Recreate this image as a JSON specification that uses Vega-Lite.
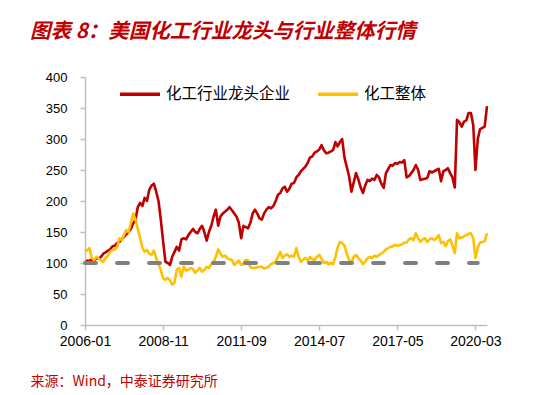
{
"$schema":"https://vega.github.io/schema/vega-lite/v6.json",
"width":402,"height":248,
"autosize":"none",
"padding":{"left":85,"top":77,"right":46,"bottom":70},
"background":"white",
"config":{"view":{"stroke":null}},
"title":{"text":"图表 8：美国化工行业龙头与行业整体行情","anchor":"start","frame":"group","dx":-55,"offset":29,"font":"Noto Sans CJK SC","fontSize":20.5,"fontWeight":"bold","fontStyle":"italic","color":"#c00000"},
"encoding":{
"x":{"field":"d","type":"temporal","scale":{"type":"utc","domain":[{"year":2006,"month":1,"utc":true},{"year":2020,"month":8,"utc":true}]},
"axis":{"values":[{"year":2006,"month":1,"utc":true},{"year":2008,"month":11,"utc":true},{"year":2011,"month":9,"utc":true},{"year":2014,"month":7,"utc":true},{"year":2017,"month":5,"utc":true},{"year":2020,"month":3,"utc":true}],"format":"%Y-%m","grid":false,"labelFont":"Liberation Sans","labelFontSize":14,"labelColor":"#000000","labelPadding":4,"labelFlush":false,"labelOverlap":false,"domainColor":"#bfbfbf","domainWidth":1.5,"tickColor":"#bfbfbf","tickSize":5,"tickWidth":1.5,
"title":"来源：Wind，中泰证券研究所","titleAnchor":"start","titleAlign":"left","titleBaseline":"middle","titleX":-55,"titleY":56,"titleColor":"#c00000","titleFont":"Noto Sans CJK SC","titleFontSize":14,"titleFontWeight":"normal"}},
"y":{"field":"value","type":"quantitative","scale":{"domain":[0,400]},
"axis":{"values":[0,50,100,150,200,250,300,350,400],"grid":false,"title":null,"labelOverlap":false,"labelFont":"Liberation Sans","labelFontSize":13,"labelColor":"#000000","labelPadding":13,"domainColor":"#bfbfbf","domainWidth":1.5,"tickColor":"#bfbfbf","tickSize":5,"tickWidth":1.5}}
},
"layer":[
{"data":{"values":[
{"d":"2006-01","化工行业龙头企业":100,"化工整体":118},{"d":"2006-02","化工行业龙头企业":104,"化工整体":121},{"d":"2006-03","化工行业龙头企业":103,"化工整体":124},{"d":"2006-04","化工行业龙头企业":106,"化工整体":108},{"d":"2006-05","化工行业龙头企业":104,"化工整体":105},{"d":"2006-06","化工行业龙头企业":108,"化工整体":110},{"d":"2006-07","化工行业龙头企业":107,"化工整体":107},{"d":"2006-08","化工行业龙头企业":110,"化工整体":104},{"d":"2006-09","化工行业龙头企业":115,"化工整体":102},{"d":"2006-10","化工行业龙头企业":117,"化工整体":108},{"d":"2006-11","化工行业龙头企业":120,"化工整体":112},{"d":"2006-12","化工行业龙头企业":122,"化工整体":118},
{"d":"2007-01","化工行业龙头企业":127,"化工整体":121},{"d":"2007-02","化工行业龙头企业":128,"化工整体":122},{"d":"2007-03","化工行业龙头企业":132,"化工整体":125},{"d":"2007-04","化工行业龙头企业":134,"化工整体":140},{"d":"2007-05","化工行业龙头企业":138,"化工整体":137},{"d":"2007-06","化工行业龙头企业":142,"化工整体":145},{"d":"2007-07","化工行业龙头企业":146,"化工整体":153},{"d":"2007-08","化工行业龙头企业":150,"化工整体":150},{"d":"2007-09","化工行业龙头企业":155,"化工整体":165},{"d":"2007-10","化工行业龙头企业":164,"化工整体":180},{"d":"2007-11","化工行业龙头企业":170,"化工整体":170},{"d":"2007-12","化工行业龙头企业":190,"化工整体":155},
{"d":"2008-01","化工行业龙头企业":197,"化工整体":140},{"d":"2008-02","化工行业龙头企业":192,"化工整体":125},{"d":"2008-03","化工行业龙头企业":205,"化工整体":118},{"d":"2008-04","化工行业龙头企业":200,"化工整体":121},{"d":"2008-05","化工行业龙头企业":218,"化工整体":115},{"d":"2008-06","化工行业龙头企业":225,"化工整体":113},{"d":"2008-07","化工行业龙头企业":228,"化工整体":120},{"d":"2008-08","化工行业龙头企业":215,"化工整体":108},{"d":"2008-09","化工行业龙头企业":200,"化工整体":98},{"d":"2008-10","化工行业龙头企业":170,"化工整体":89},{"d":"2008-11","化工行业龙头企业":135,"化工整体":75},{"d":"2008-12","化工行业龙头企业":102,"化工整体":73},
{"d":"2009-01","化工行业龙头企业":100,"化工整体":76},{"d":"2009-02","化工行业龙头企业":97,"化工整体":72},{"d":"2009-03","化工行业龙头企业":110,"化工整体":65},{"d":"2009-04","化工行业龙头企业":118,"化工整体":68},{"d":"2009-05","化工行业龙头企业":126,"化工整体":89},{"d":"2009-06","化工行业龙头企业":120,"化工整体":92},{"d":"2009-07","化工行业龙头企业":138,"化工整体":78},{"d":"2009-08","化工行业龙头企业":140,"化工整体":94},{"d":"2009-09","化工行业龙头企业":138,"化工整体":88},{"d":"2009-10","化工行业龙头企业":145,"化工整体":89},{"d":"2009-11","化工行业龙头企业":150,"化工整体":92},{"d":"2009-12","化工行业龙头企业":155,"化工整体":90},
{"d":"2010-01","化工行业龙头企业":150,"化工整体":84},{"d":"2010-02","化工行业龙头企业":148,"化工整体":88},{"d":"2010-03","化工行业龙头企业":155,"化工整体":92},{"d":"2010-04","化工行业龙头企业":160,"化工整体":86},{"d":"2010-05","化工行业龙头企业":150,"化工整体":89},{"d":"2010-06","化工行业龙头企业":136,"化工整体":94},{"d":"2010-07","化工行业龙头企业":150,"化工整体":92},{"d":"2010-08","化工行业龙头企业":160,"化工整体":98},{"d":"2010-09","化工行业龙头企业":175,"化工整体":102},{"d":"2010-10","化工行业龙头企业":186,"化工整体":110},{"d":"2010-11","化工行业龙头企业":160,"化工整体":122},{"d":"2010-12","化工行业龙头企业":175,"化工整体":115},
{"d":"2011-01","化工行业龙头企业":180,"化工整体":110},{"d":"2011-02","化工行业龙头企业":183,"化工整体":112},{"d":"2011-03","化工行业龙头企业":186,"化工整体":108},{"d":"2011-04","化工行业龙头企业":190,"化工整体":106},{"d":"2011-05","化工行业龙头企业":185,"化工整体":105},{"d":"2011-06","化工行业龙头企业":180,"化工整体":97},{"d":"2011-07","化工行业龙头企业":175,"化工整体":100},{"d":"2011-08","化工行业龙头企业":165,"化工整体":104},{"d":"2011-09","化工行业龙头企业":140,"化工整体":97},{"d":"2011-10","化工行业龙头企业":160,"化工整体":98},{"d":"2011-11","化工行业龙头企业":158,"化工整体":105},{"d":"2011-12","化工行业龙头企业":156,"化工整体":104},
{"d":"2012-01","化工行业龙头企业":165,"化工整体":93},{"d":"2012-02","化工行业龙头企业":180,"化工整体":92},{"d":"2012-03","化工行业龙头企业":186,"化工整体":92},{"d":"2012-04","化工行业龙头企业":180,"化工整体":93},{"d":"2012-05","化工行业龙头企业":172,"化工整体":94},{"d":"2012-06","化工行业龙头企业":170,"化工整体":94},{"d":"2012-07","化工行业龙头企业":180,"化工整体":91},{"d":"2012-08","化工行业龙头企业":186,"化工整体":92},{"d":"2012-09","化工行业龙头企业":190,"化工整体":94},{"d":"2012-10","化工行业龙头企业":188,"化工整体":98},{"d":"2012-11","化工行业龙头企业":192,"化工整体":100},{"d":"2012-12","化工行业龙头企业":200,"化工整体":102},
{"d":"2013-01","化工行业龙头企业":210,"化工整体":110},{"d":"2013-02","化工行业龙头企业":213,"化工整体":118},{"d":"2013-03","化工行业龙头企业":220,"化工整体":108},{"d":"2013-04","化工行业龙头企业":223,"化工整体":112},{"d":"2013-05","化工行业龙头企业":215,"化工整体":114},{"d":"2013-06","化工行业龙头企业":220,"化工整体":110},{"d":"2013-07","化工行业龙头企业":228,"化工整体":112},{"d":"2013-08","化工行业龙头企业":229,"化工整体":110},{"d":"2013-09","化工行业龙头企业":238,"化工整体":124},{"d":"2013-10","化工行业龙头企业":242,"化工整体":110},{"d":"2013-11","化工行业龙头企业":248,"化工整体":102},{"d":"2013-12","化工行业龙头企业":252,"化工整体":106},
{"d":"2014-01","化工行业龙头企业":256,"化工整体":108},{"d":"2014-02","化工行业龙头企业":262,"化工整体":104},{"d":"2014-03","化工行业龙头企业":270,"化工整体":110},{"d":"2014-04","化工行业龙头企业":272,"化工整体":106},{"d":"2014-05","化工行业龙头企业":278,"化工整体":105},{"d":"2014-06","化工行业龙头企业":280,"化工整体":110},{"d":"2014-07","化工行业龙头企业":283,"化工整体":113},{"d":"2014-08","化工行业龙头企业":290,"化工整体":107},{"d":"2014-09","化工行业龙头企业":282,"化工整体":100},{"d":"2014-10","化工行业龙头企业":277,"化工整体":102},{"d":"2014-11","化工行业龙头企业":278,"化工整体":98},{"d":"2014-12","化工行业龙头企业":280,"化工整体":100},
{"d":"2015-01","化工行业龙头企业":282,"化工整体":98},{"d":"2015-02","化工行业龙头企业":295,"化工整体":110},{"d":"2015-03","化工行业龙头企业":288,"化工整体":125},{"d":"2015-04","化工行业龙头企业":295,"化工整体":134},{"d":"2015-05","化工行业龙头企业":300,"化工整体":132},{"d":"2015-06","化工行业龙头企业":270,"化工整体":128},{"d":"2015-07","化工行业龙头企业":255,"化工整体":115},{"d":"2015-08","化工行业龙头企业":240,"化工整体":105},{"d":"2015-09","化工行业龙头企业":215,"化工整体":100},{"d":"2015-10","化工行业龙头企业":230,"化工整体":110},{"d":"2015-11","化工行业龙头企业":245,"化工整体":113},{"d":"2015-12","化工行业龙头企业":235,"化工整体":108},
{"d":"2016-01","化工行业龙头企业":222,"化工整体":104},{"d":"2016-02","化工行业龙头企业":213,"化工整体":98},{"d":"2016-03","化工行业龙头企业":225,"化工整体":102},{"d":"2016-04","化工行业龙头企业":234,"化工整体":108},{"d":"2016-05","化工行业龙头企业":232,"化工整体":110},{"d":"2016-06","化工行业龙头企业":236,"化工整体":108},{"d":"2016-07","化工行业龙头企业":234,"化工整体":112},{"d":"2016-08","化工行业龙头企业":242,"化工整体":110},{"d":"2016-09","化工行业龙头企业":238,"化工整体":113},{"d":"2016-10","化工行业龙头企业":228,"化工整体":115},{"d":"2016-11","化工行业龙头企业":221,"化工整体":118},{"d":"2016-12","化工行业龙头企业":245,"化工整体":122},
{"d":"2017-01","化工行业龙头企业":252,"化工整体":124},{"d":"2017-02","化工行业龙头企业":258,"化工整体":126},{"d":"2017-03","化工行业龙头企业":257,"化工整体":127},{"d":"2017-04","化工行业龙头企业":261,"化工整体":129},{"d":"2017-05","化工行业龙头企业":260,"化工整体":128},{"d":"2017-06","化工行业龙头企业":263,"化工整体":129},{"d":"2017-07","化工行业龙头企业":262,"化工整体":130},{"d":"2017-08","化工行业龙头企业":266,"化工整体":133},{"d":"2017-09","化工行业龙头企业":238,"化工整体":133},{"d":"2017-10","化工行业龙头企业":240,"化工整体":138},{"d":"2017-11","化工行业龙头企业":245,"化工整体":140},{"d":"2017-12","化工行业龙头企业":250,"化工整体":137},
{"d":"2018-01","化工行业龙头企业":258,"化工整体":148},{"d":"2018-02","化工行业龙头企业":250,"化工整体":140},{"d":"2018-03","化工行业龙头企业":234,"化工整体":134},{"d":"2018-04","化工行业龙头企业":235,"化工整体":138},{"d":"2018-05","化工行业龙头企业":236,"化工整体":140},{"d":"2018-06","化工行业龙头企业":237,"化工整体":134},{"d":"2018-07","化工行业龙头企业":248,"化工整体":138},{"d":"2018-08","化工行业龙头企业":246,"化工整体":140},{"d":"2018-09","化工行业龙头企业":248,"化工整体":137},{"d":"2018-10","化工行业龙头企业":250,"化工整体":140},{"d":"2018-11","化工行业龙头企业":252,"化工整体":145},{"d":"2018-12","化工行业龙头企业":232,"化工整体":132},
{"d":"2019-01","化工行业龙头企业":248,"化工整体":134},{"d":"2019-02","化工行业龙头企业":250,"化工整体":127},{"d":"2019-03","化工行业龙头企业":253,"化工整体":135},{"d":"2019-04","化工行业龙头企业":245,"化工整体":138},{"d":"2019-05","化工行业龙头企业":238,"化工整体":128},{"d":"2019-06","化工行业龙头企业":222,"化工整体":116},{"d":"2019-07","化工行业龙头企业":331,"化工整体":148},{"d":"2019-08","化工行业龙头企业":327,"化工整体":140},{"d":"2019-09","化工行业龙头企业":320,"化工整体":141},{"d":"2019-10","化工行业龙头企业":328,"化工整体":143},{"d":"2019-11","化工行业龙头企业":330,"化工整体":145},{"d":"2019-12","化工行业龙头企业":342,"化工整体":147},
{"d":"2020-01","化工行业龙头企业":342,"化工整体":148},{"d":"2020-02","化工行业龙头企业":322,"化工整体":140},{"d":"2020-03","化工行业龙头企业":250,"化工整体":108},{"d":"2020-04","化工行业龙头企业":300,"化工整体":125},{"d":"2020-05","化工行业龙头企业":316,"化工整体":133},{"d":"2020-06","化工行业龙头企业":318,"化工整体":134},{"d":"2020-07","化工行业龙头企业":320,"化工整体":135},{"d":"2020-08","化工行业龙头企业":353,"化工整体":148}
]},
"transform":[{"fold":["化工行业龙头企业","化工整体"],"as":["series","value"]}],
"mark":{"type":"line","strokeWidth":2.6,"strokeJoin":"round"},
"encoding":{
"color":{"field":"series","type":"nominal","scale":{"domain":["化工行业龙头企业","化工整体"],"range":["#c00000","#ffc000"]},
"legend":{"title":null,"orient":"none","legendX":33,"legendY":-5,"direction":"horizontal","symbolType":"stroke","symbolSize":1600,"symbolStrokeWidth":3.5,"labelFont":"Noto Sans CJK SC","labelFontSize":15.5,"labelColor":"#000000","columnPadding":20,"labelOffset":4,"labelLimit":300}}
}},
{"data":{"values":[{"d":"2006-01","value":100},{"d":"2020-04","value":100}]},
"mark":{"type":"line","color":"#808080","strokeWidth":4,"strokeDash":[11,21],"strokeCap":"round"},
"encoding":{}}
]
}
